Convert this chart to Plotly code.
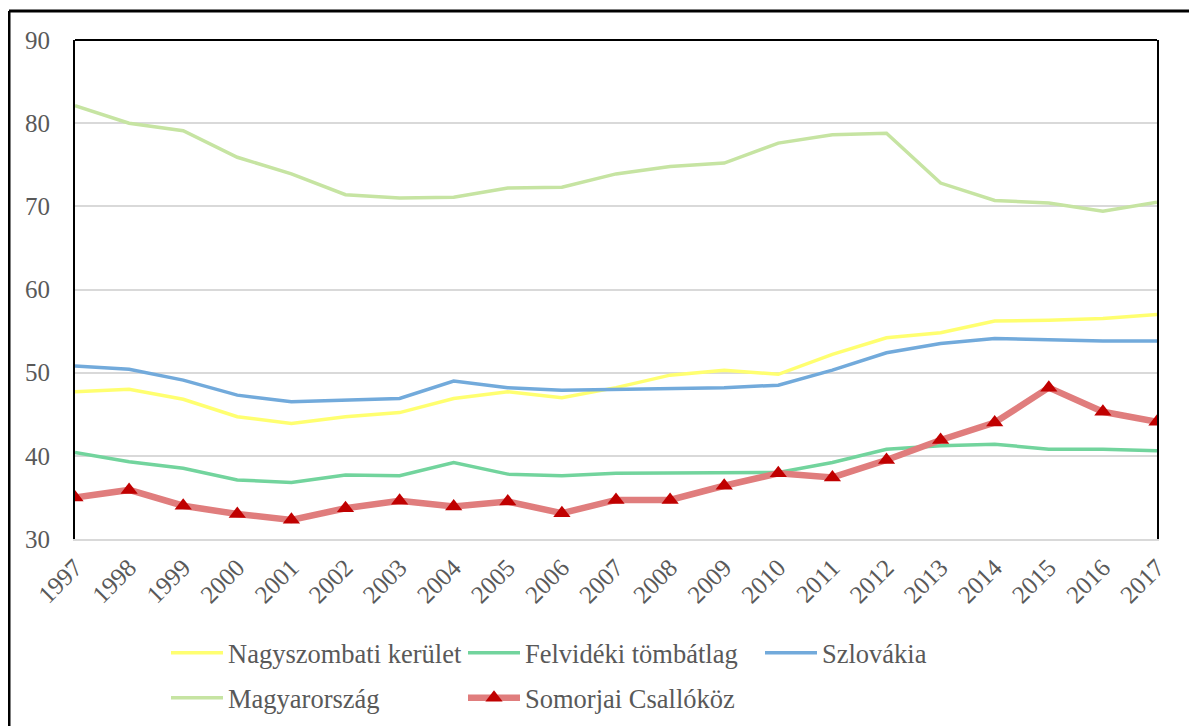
import plotly.graph_objects as go

years = [str(y) for y in range(1997, 2018)]

nagyszombati = [47.7, 48.0, 46.8, 44.7, 43.9, 44.7, 45.2, 46.9, 47.7, 47.0, 48.2,
                49.7, 50.3, 49.8, 52.2, 54.2, 54.8, 56.2, 56.3, 56.5, 57.0]
felvideki = [40.4, 39.3, 38.5, 37.1, 36.8, 37.7, 37.6, 39.2, 37.8, 37.6, 37.9,
             37.9, 38.0, 38.0, 39.2, 40.8, 41.2, 41.4, 40.8, 40.8, 40.6]
szlovakia = [50.8, 50.4, 49.1, 47.3, 46.5, 46.7, 46.9, 49.0, 48.2, 47.9, 48.0,
             48.2, 48.2, 48.5, 50.3, 52.4, 53.5, 54.1, 53.9, 53.8, 53.8]
magyarorszag = [82.1, 80.0, 79.1, 75.9, 73.9, 71.4, 71.0, 71.1, 72.2, 72.3, 73.9,
                74.8, 75.2, 77.6, 78.6, 78.8, 72.8, 70.7, 70.4, 69.4, 70.5]
somorjai = [35.0, 35.9, 34.0, 33.0, 32.3, 33.7, 34.6, 33.9, 34.5, 33.1, 34.7,
            34.7, 36.4, 37.9, 37.4, 39.5, 41.9, 44.0, 48.2, 45.3, 44.1]

names = ["Nagyszombati kerület", "Felvidéki tömbátlag", "Szlovákia",
         "Magyarország", "Somorjai Csallóköz"]

FONT = "Liberation Serif, Times New Roman, serif"
GREY = "#595959"

fig = go.Figure()
fig.add_trace(go.Scatter(x=years, y=nagyszombati, name=names[0], mode="lines",
                         line=dict(color="#ffff70", width=3.5), legend="legend"))
fig.add_trace(go.Scatter(x=years, y=felvideki, name=names[1], mode="lines",
                         line=dict(color="#72d49d", width=3.5), legend="legend"))
fig.add_trace(go.Scatter(x=years, y=szlovakia, name=names[2], mode="lines",
                         line=dict(color="#72aadb", width=3.5), legend="legend"))
fig.add_trace(go.Scatter(x=years, y=magyarorszag, name=names[3], mode="lines",
                         line=dict(color="#c6e4a2", width=3.5), legend="legend2"))
fig.add_trace(go.Scatter(x=years, y=somorjai, name=names[4], mode="lines+markers",
                         line=dict(color="#e07d7d", width=6.5),
                         marker=dict(symbol="triangle-up", size=15, color="#c00000"),
                         legend="legend2"))

OFF = 8  # page body margin
W, H = 1197 - OFF, 726 - OFF
L, R, T, B = 75 - OFF, 1157 - OFF, 40 - OFF, 539 - OFF
pw, ph = R - L, B - T


def px(x):
    return (x - OFF - L) / pw


def py(y):
    return (B - (y - OFF)) / ph


def cy(y):
    return 1 - (y - OFF) / H


def cx(x):
    return (x - OFF) / W


legend_common = dict(orientation="h", font=dict(family=FONT, size=26.5, color=GREY),
                     bgcolor="rgba(0,0,0,0)", entrywidth=230, entrywidthmode="pixels",
                     itemwidth=52, xanchor="left", yanchor="middle", itemclick=False,
                     xref="container", yref="container")

fig.update_layout(
    width=W, height=H,
    margin=dict(l=L, r=W - R, t=T, b=H - B, autoexpand=False),
    paper_bgcolor="white", plot_bgcolor="white",
    font=dict(family=FONT, size=25, color=GREY),
    xaxis=dict(type="category", range=[0, 20], showgrid=False,
               tickangle=-45, tickfont=dict(family=FONT, size=25, color=GREY),
               showline=True, linecolor="#d9d9d9", linewidth=2, ticks="",
               ticklabelstandoff=2),
    yaxis=dict(range=[30, 90], dtick=10, showgrid=True, gridcolor="#d9d9d9",
               gridwidth=2, zeroline=False, showline=True, mirror=True,
               linecolor="black", linewidth=2,
               tickfont=dict(family=FONT, size=25, color=GREY),
               ticks="", ticklabelstandoff=18),
    legend=dict(x=cx(166), y=cy(653), **legend_common),
    legend2=dict(x=cx(166), y=cy(698), **legend_common),
    showlegend=True,
)

fig.add_shape(type="line", xref="paper", yref="paper", x0=0, x1=1, y0=1, y1=1,
              line=dict(color="black", width=2))
fig.add_shape(type="line", xref="paper", yref="paper", x0=px(9), x1=px(1197 + 5),
              y0=py(11), y1=py(11), line=dict(color="black", width=3))
fig.add_shape(type="line", xref="paper", yref="paper", x0=px(9), x1=px(9),
              y0=py(11), y1=py(726 + 5), line=dict(color="black", width=3))

fig.write_html("out.html")
